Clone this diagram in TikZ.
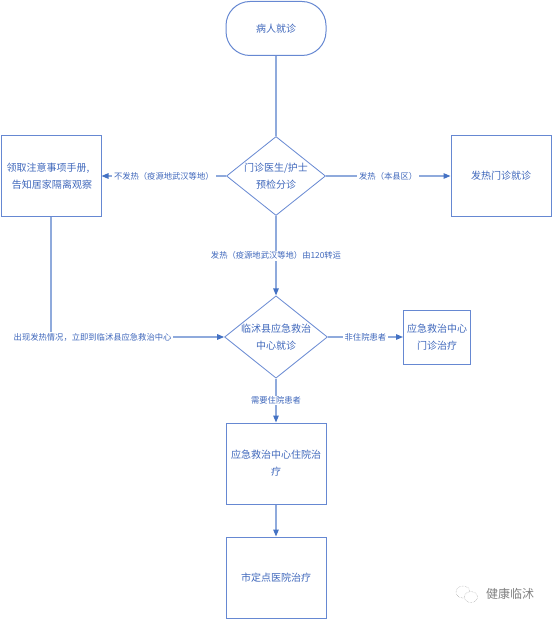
\documentclass[tikz,border=0pt]{standalone}
\usepackage{fontspec}
\setmainfont{Noto Sans CJK SC}
\usetikzlibrary{arrows.meta,shapes.geometric}
\definecolor{edgeblue}{HTML}{6688D2}
\definecolor{linkblue}{HTML}{8FAADC}
\definecolor{textblue}{HTML}{4068BC}
\definecolor{tipblue}{HTML}{4472C4}
\tikzset{
  boxnode/.style={draw=edgeblue,line width=1pt,fill=white,text=textblue,font=\fontsize{10}{17}\selectfont,align=center,inner sep=0pt,minimum width=100pt,minimum height=81pt},
  decision/.style={diamond,draw=edgeblue,line width=0.8pt,fill=white,text=textblue,font=\fontsize{10}{17}\selectfont,align=center,inner sep=0pt,aspect=1.25,minimum width=99pt,minimum height=79pt},
  startnode/.style={draw=edgeblue,line width=1pt,fill=white,text=textblue,font=\fontsize{10}{17}\selectfont,rounded corners=24pt,minimum width=100pt,minimum height=54pt,inner sep=0pt},
  link/.style={draw=linkblue,line width=1.2pt},
  arrowlink/.style={link,-{Triangle[length=7pt,width=5.5pt,fill=tipblue,color=tipblue]}},
  linklabel/.style={fill=white,text=textblue,font=\fontsize{8.3}{10}\selectfont,inner xsep=2pt,inner ysep=1pt},
}
\begin{document}
\begin{tikzpicture}[x=1pt,y=-1pt]
\useasboundingbox (0,0) rectangle (553,620);
\node[startnode] (start) at (276,28.5) {病人就诊};
\node[decision] (triage) at (276,176) {门诊医生/护士\\预检分诊};
\node[boxnode] (home) at (51,176) {领取注意事项手册,\hspace*{6pt}\\\hspace*{2pt}告知居家隔离观察};
\node[boxnode] (fever) at (501,176) {发热门诊就诊};
\node[decision] (center) at (276,337) {临沭县应急救治\\中心就诊};
\node[boxnode,minimum width=67pt,minimum height=54pt] (outp) at (437,337) {应急救治中心\\门诊治疗};
\node[boxnode] (inp) at (276,463.5) {应急救治中心住院治\\疗};
\node[boxnode] (city) at (276,577.5) {市定点医院治疗};
\coordinate (bend) at (home.south |- center.west);
\draw[link] (start) -- (triage);
\draw[arrowlink] (triage) -- node[linklabel,pos=0.5] {不发热（疫源地武汉等地）} (home);
\draw[arrowlink] (triage) -- node[linklabel,pos=0.5] {发热（本县区）} (fever);
\draw[arrowlink] (triage) -- node[linklabel,pos=0.5] {发热（疫源地武汉等地）由120转运} (center);
\draw[arrowlink] (home.south) -- (bend) -- node[linklabel,pos=0.24] {出现发热情况，立即到临沭县应急救治中心} (center.west);
\draw[arrowlink] (center) -- node[linklabel,pos=0.5] {非住院患者} (outp);
\draw[arrowlink] (center) -- node[linklabel,pos=0.5] {需要住院患者} (inp);
\draw[arrowlink] (inp) -- (city);
\draw[gray!70,line width=0.5pt,densely dotted] (463,592) ellipse (7pt and 6pt);
\draw[gray!70,line width=0.5pt,densely dotted,fill=white] (471,597) ellipse (6.5pt and 5.5pt);
\node[text=gray,font=\fontsize{12}{12}\selectfont,inner sep=0pt] (mark) at (510,594) {健康临沭};
\end{tikzpicture}
\end{document}
